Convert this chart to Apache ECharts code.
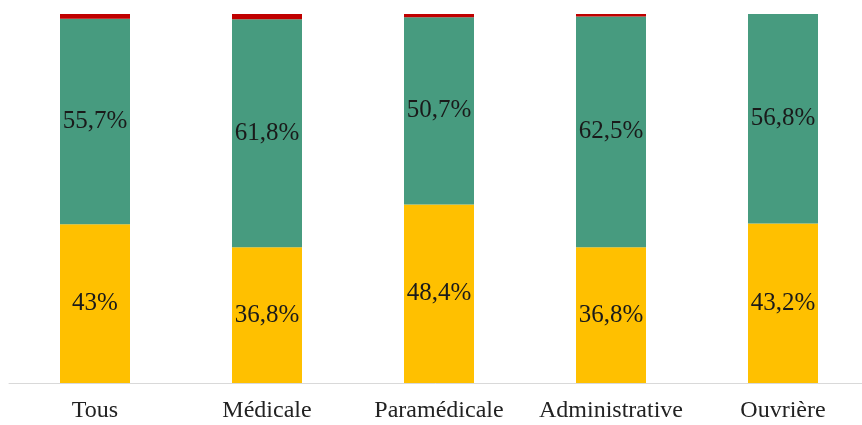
<!DOCTYPE html>
<html>
<head>
<meta charset="utf-8">
<script src="https://cdn.jsdelivr.net/npm/echarts@6/dist/echarts.min.js"></script>
<style>html,body{margin:0;padding:0;background:#fff}#c{width:862px;height:425px}</style>
</head>
<body>
<div id="c"></div>
<script>
var categories = ['Tous', 'Médicale', 'Paramédicale', 'Administrative', 'Ouvrière'];
var yellowValues = [43, 36.8, 48.4, 36.8, 43.2];
var greenValues = [55.7, 61.8, 50.7, 62.5, 56.8];
var redValues = [1.3, 1.4, 0.9, 0.7, 0];

function fmt(p) { return String(p.value).replace('.', ',') + '%'; }
var labelStyle = { show: true, position: 'inside', formatter: fmt, color: '#1a1a1a', fontFamily: 'Liberation Serif', fontSize: 25 };

var chart = echarts.init(document.getElementById('c'));
chart.setOption({
  animation: false,
  grid: { left: 9, right: -7, top: 14, bottom: 42, outerBoundsMode: 'none', containLabel: false },
  xAxis: {
    type: 'category', data: categories,
    axisLine: { lineStyle: { color: '#d9d9d9', width: 1 } },
    axisTick: { show: false },
    axisLabel: { interval: 0, hideOverlap: false, color: '#222', fontFamily: 'Liberation Serif', fontSize: 24, margin: 16 }
  },
  yAxis: { type: 'value', min: 0, max: 100, show: false, splitLine: { show: false } },
  series: [
    { type: 'bar', stack: 's', data: yellowValues, barWidth: 70, itemStyle: { color: '#FFC000' }, label: labelStyle },
    { type: 'bar', stack: 's', data: greenValues, barWidth: 70, itemStyle: { color: '#479B7F' }, label: labelStyle },
    { type: 'bar', stack: 's', data: redValues, barWidth: 70, itemStyle: { color: '#C00000' } }
  ]
});
</script>
</body>
</html>
